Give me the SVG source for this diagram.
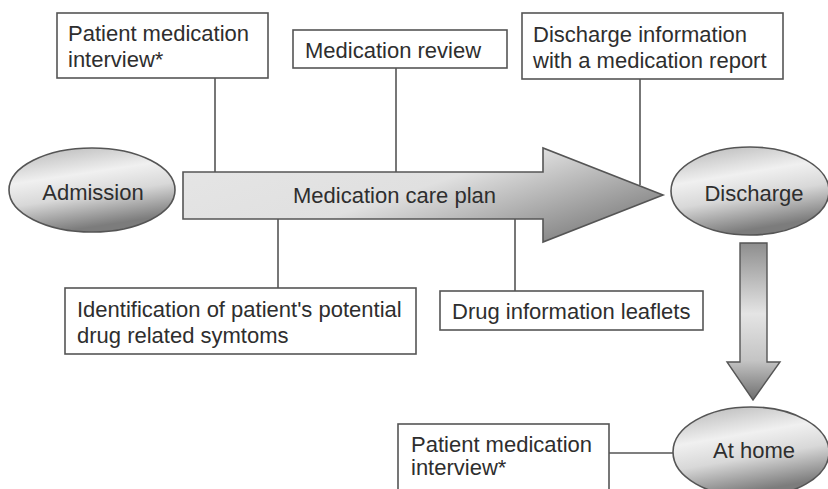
<svg xmlns="http://www.w3.org/2000/svg" width="828" height="489" viewBox="0 0 828 489">
<defs>
<linearGradient id="gEll" x1="0" y1="0" x2="0.3" y2="1">
<stop offset="0" stop-color="#b4b4b4"/>
<stop offset="0.4" stop-color="#f0f0f0"/>
<stop offset="0.65" stop-color="#d8d8d8"/>
<stop offset="1" stop-color="#7c7c7c"/>
</linearGradient>
<linearGradient id="gArrow" x1="0" y1="0" x2="1" y2="0.6">
<stop offset="0" stop-color="#e6e6e6"/>
<stop offset="0.55" stop-color="#e0e0e0"/>
<stop offset="1" stop-color="#8a8a8a"/>
</linearGradient>
<linearGradient id="gDown" x1="0" y1="0" x2="0" y2="1">
<stop offset="0" stop-color="#8e8e8e"/>
<stop offset="0.45" stop-color="#e4e4e4"/>
<stop offset="0.75" stop-color="#c4c4c4"/>
<stop offset="1" stop-color="#6e6e6e"/>
</linearGradient>
</defs>
<style>
.box{fill:#fff;stroke:#555;stroke-width:1.6}
.ell{fill:url(#gEll);stroke:#555;stroke-width:1.6}
.ln{stroke:#555;stroke-width:1.6;fill:none}
text{font-family:"Liberation Sans",Arial,sans-serif;font-size:22px;fill:#2e2e2e}
.c{text-anchor:middle}
</style>
<rect width="828" height="489" fill="#fff"/>
<g id="connectors">
<line class="ln" x1="215" y1="78" x2="215" y2="172"/>
<line class="ln" x1="396" y1="68" x2="396" y2="172"/>
<line class="ln" x1="640" y1="79" x2="640" y2="185"/>
<line class="ln" x1="278" y1="219" x2="278" y2="288"/>
<line class="ln" x1="515" y1="219" x2="515" y2="291"/>
<line class="ln" x1="609" y1="453" x2="673" y2="453"/>
</g>
<g id="care-plan-arrow">
<polygon points="183,172 543,172 543,148 663,195 543,242 543,219 183,219" fill="url(#gArrow)" stroke="#555" stroke-width="1.6"/>
<text x="293" y="203">Medication care plan</text>
</g>
<g id="down-arrow">
<polygon points="740,243 767,243 767,362 780,362 753,400 727,362 740,362" fill="url(#gDown)" stroke="#555" stroke-width="1.4"/>
</g>
<g id="admission">
<ellipse class="ell" cx="92" cy="190" rx="83" ry="42"/>
<text class="c" x="93" y="200">Admission</text>
</g>
<g id="discharge">
<ellipse class="ell" cx="750" cy="191" rx="79" ry="44"/>
<text class="c" x="754" y="201">Discharge</text>
</g>
<g id="at-home">
<ellipse class="ell" cx="751" cy="452" rx="78" ry="45"/>
<text class="c" x="754" y="458">At home</text>
</g>
<g id="patient-interview-top">
<rect class="box" x="57" y="13" width="211" height="65"/>
<text x="68" y="41">Patient medication</text>
<text x="68" y="67">interview*</text>
</g>
<g id="medication-review">
<rect class="box" x="293" y="30" width="214" height="38"/>
<text x="305" y="58">Medication review</text>
</g>
<g id="discharge-info">
<rect class="box" x="522" y="13" width="261" height="66"/>
<text x="533" y="42">Discharge information</text>
<text x="533" y="68">with a medication report</text>
</g>
<g id="identification">
<rect class="box" x="65" y="288" width="351" height="66"/>
<text x="77" y="317">Identification of patient's potential</text>
<text x="77" y="343">drug related symtoms</text>
</g>
<g id="drug-info">
<rect class="box" x="440" y="291" width="263" height="39"/>
<text x="452" y="319">Drug information leaflets</text>
</g>
<g id="patient-interview-home">
<rect class="box" x="398" y="424" width="211" height="70"/>
<text x="411" y="452">Patient medication</text>
<text x="411" y="475">interview*</text>
</g>
</svg>
